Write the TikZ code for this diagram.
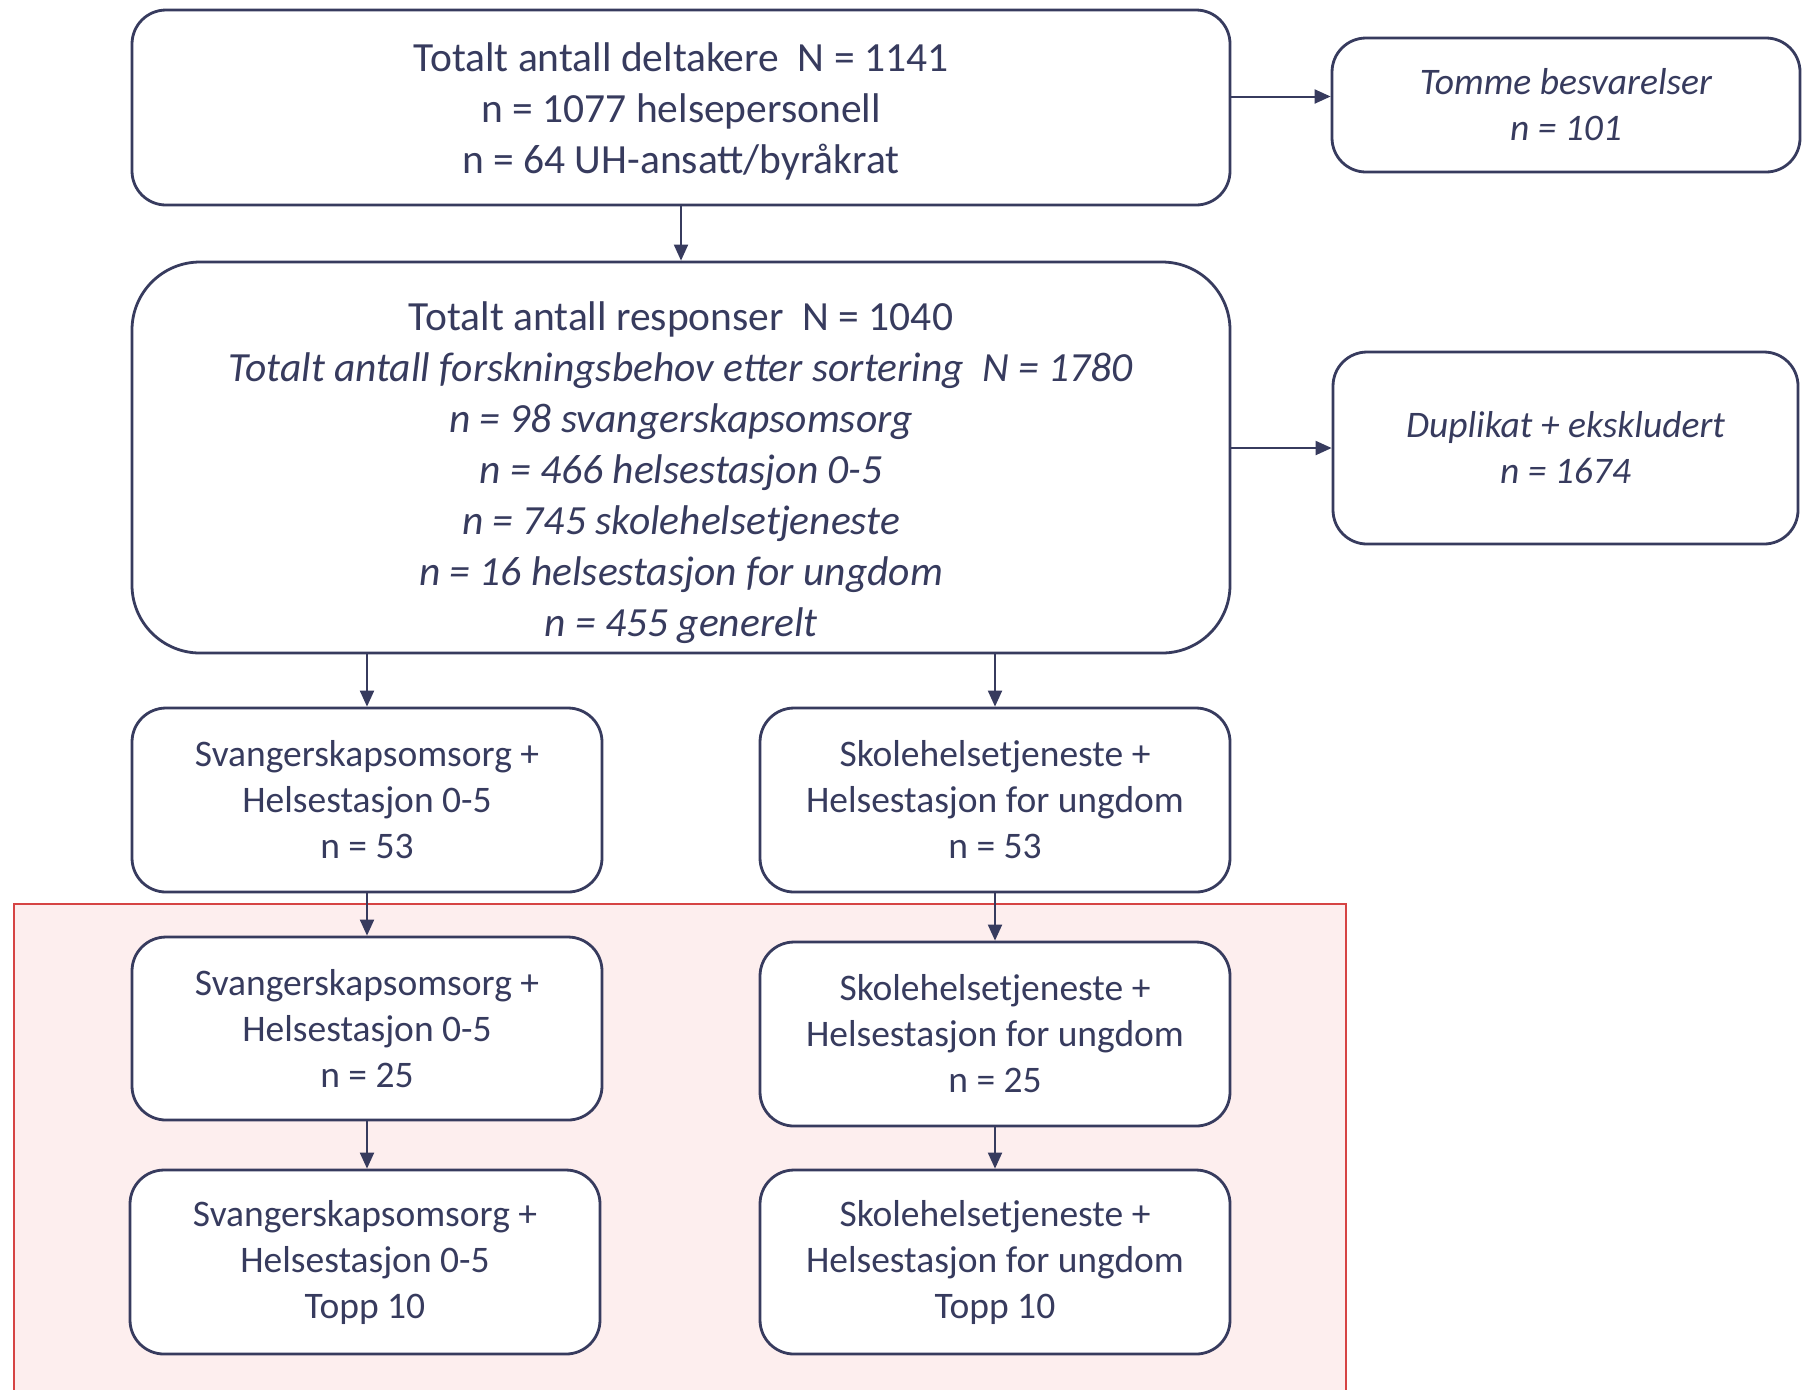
\documentclass[tikz,border=0pt]{standalone}
\usepackage{fontspec}
\setmainfont{Carlito}
\usetikzlibrary{arrows.meta,calc}
\definecolor{navy}{RGB}{55,59,94}
\definecolor{redline}{RGB}{214,68,68}
\definecolor{redfill}{RGB}{253,238,238}
\begin{document}
\begin{tikzpicture}[x=0.5pt,y=-0.5pt,
  box/.style={draw=navy, line width=1.4pt, rounded corners=17pt, fill=white, text=navy, align=center, inner sep=0pt},
  big/.style={font=\fontsize{20.75}{25.5}\selectfont},
  small/.style={font=\fontsize{18.75}{23}\selectfont},
  lbl/.style={text=navy, align=center, inner sep=0pt},
  arr/.style={draw=navy, line width=1pt, -{Triangle[length=8pt,width=7pt]}}]
\useasboundingbox (0,0) rectangle (1802,1389);
\fill[white] (0,0) rectangle (1802,1389);
\draw[draw=redline, fill=redfill, line width=1.2pt] (14,904) rectangle (1346,1430);

\node[box,minimum width=549pt,minimum height=97.5pt] (b1) at (681,107.5) {};
\node[big,lbl] (b1t) at (681,111)
  {Totalt antall deltakere\ \ N = 1141\\n = 1077 helsepersonell\\n = 64 UH-ansatt/byråkrat};
\node[box,rounded corners=34pt,minimum width=549pt,minimum height=195.5pt] (b2) at (681,457.5) {};
\node[big,lbl] (b2t) at (681,472.5)
  {Totalt antall responser\ \ N = 1040\\
   \textit{Totalt antall forskningsbehov etter sortering\ \ N = 1780}\\
   \textit{n = 98 svangerskapsomsorg}\\
   \textit{n = 466 helsestasjon 0-5}\\
   \textit{n = 745 skolehelsetjeneste}\\
   \textit{n = 16 helsestasjon for ungdom}\\
   \textit{n = 455 generelt}};

\node[box,small,minimum width=234pt,minimum height=67pt] (tom) at (1566,105)
  {\textit{Tomme besvarelser}\\\textit{n = 101}};
\node[box,small,minimum width=232.5pt,minimum height=96pt] (dup) at (1565.5,448)
  {\textit{Duplikat + ekskludert}\\\textit{n = 1674}};

\node[box,small,minimum width=235pt,minimum height=92pt] (svA) at (367,800)
  {Svangerskapsomsorg +\\Helsestasjon 0-5\\n = 53};
\node[box,small,minimum width=235pt,minimum height=92pt] (skA) at (995,800)
  {Skolehelsetjeneste +\\Helsestasjon for ungdom\\n = 53};
\node[box,small,minimum width=235pt,minimum height=91.5pt] (svB) at (367,1028.5)
  {Svangerskapsomsorg +\\Helsestasjon 0-5\\n = 25};
\node[box,small,minimum width=235pt,minimum height=92pt] (skB) at (995,1034)
  {Skolehelsetjeneste +\\Helsestasjon for ungdom\\n = 25};
\node[box,small,minimum width=235pt,minimum height=92pt] (svC) at (365,1262)
  {Svangerskapsomsorg +\\Helsestasjon 0-5\\Topp 10};
\node[box,small,minimum width=235pt,minimum height=92pt] (skC) at (995,1262)
  {Skolehelsetjeneste +\\Helsestasjon for ungdom\\Topp 10};

\coordinate (ta) at (1230,96.5);
\draw[arr] (b1.south) -- (b2.north);
\draw[arr] (b1.east |- ta) -- (tom.west |- ta);
\draw[arr] (b2.east |- dup.west) -- (dup.west);
\draw[arr] (b2.south -| svA.north) -- (svA.north);
\draw[arr] (b2.south -| skA.north) -- (skA.north);
\draw[arr] (svA.south) -- (svB.north);
\draw[arr] (skA.south) -- (skB.north);
\draw[arr] (svB.south) -- (svB.south |- svC.north);
\draw[arr] (skB.south) -- (skC.north);
\end{tikzpicture}
\end{document}
